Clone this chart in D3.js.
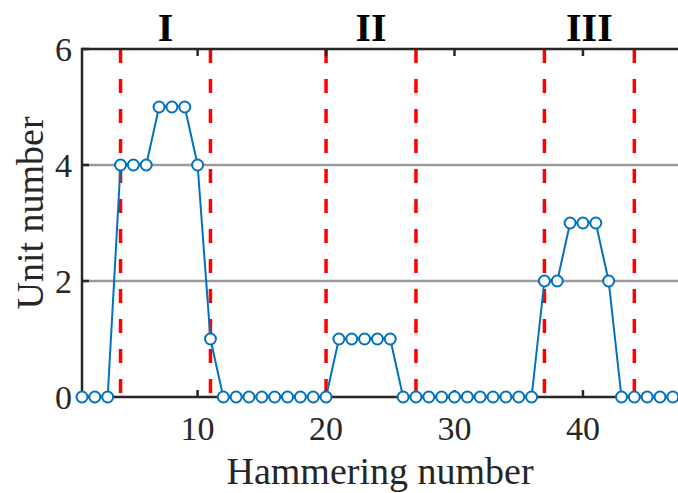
<!DOCTYPE html>
<html><head><meta charset="utf-8">
<script src="https://cdn.jsdelivr.net/npm/d3@7"></script>
<style>html,body{margin:0;padding:0;background:#fff;} svg{display:block;}</style>
</head><body>
<svg id="c" width="678" height="493"></svg>
<script>
const hammering = d3.range(1, 48);
const units = [0,0,0,4,4,4,5,5,5,4,1,0,0,0,0,0,0,0,0,0,1,1,1,1,1,0,0,0,0,0,0,0,0,0,0,0,2,2,3,3,3,2,0,0,0,0,0];
const boundaries = [4,11,20,27,37,44];
const stageLabels = ["I","II","III"];
const xTicks = [10,20,30,40];
const yTicks = [0,2,4,6];
const gridValues = [2,4];

const svg = d3.select("#c");
const L = 82, R = 678, T = 49, B = 397;
const x = d3.scaleLinear().domain([1, 47.4]).range([L, R]);
const y = d3.scaleLinear().domain([0, 6]).range([B, T]);
const font = "'Liberation Serif','Times New Roman',serif";
const axisColor = "#262626";

// gridlines
svg.append("g").selectAll("line").data(gridValues).join("line")
  .attr("x1", L).attr("x2", R).attr("y1", d => y(d)).attr("y2", d => y(d))
  .attr("stroke", "#9a9a9a").attr("stroke-width", 2.5);

// red dashed boundaries
svg.append("g").selectAll("line").data(boundaries).join("line")
  .attr("x1", d => x(d)).attr("x2", d => x(d)).attr("y1", T).attr("y2", B)
  .attr("stroke", "#ff0000").attr("stroke-width", 3.5).attr("stroke-dasharray", "14,16");

// axes lines
const ax = svg.append("g").attr("stroke", axisColor).attr("stroke-width", 2.5);
ax.append("line").attr("x1", L).attr("x2", L).attr("y1", T - 1).attr("y2", B + 1);
ax.append("line").attr("x1", L - 1).attr("x2", R).attr("y1", T).attr("y2", T);
ax.append("line").attr("x1", L - 1).attr("x2", R).attr("y1", B).attr("y2", B);
// ticks
ax.selectAll(".yt").data(yTicks).join("line").attr("class","yt")
  .attr("x1", L).attr("x2", L + 7).attr("y1", d => y(d)).attr("y2", d => y(d));
ax.selectAll(".xb").data(xTicks).join("line").attr("class","xb")
  .attr("x1", d => x(d)).attr("x2", d => x(d)).attr("y1", B).attr("y2", B - 7);
ax.selectAll(".xt").data(xTicks).join("line").attr("class","xt")
  .attr("x1", d => x(d)).attr("x2", d => x(d)).attr("y1", T).attr("y2", T + 7);

// tick labels
svg.append("g").selectAll("text").data(yTicks).join("text")
  .attr("x", L - 10).attr("y", d => y(d) + 12).attr("text-anchor", "end")
  .attr("font-family", font).attr("font-size", 34).attr("fill", axisColor).text(d => d);
svg.append("g").selectAll("text").data(xTicks).join("text")
  .attr("x", d => x(d)).attr("y", 440).attr("text-anchor", "middle")
  .attr("font-family", font).attr("font-size", 34).attr("fill", axisColor).text(d => d);

// axis titles
svg.append("text").attr("x", 380).attr("y", 484).attr("text-anchor", "middle")
  .attr("font-family", font).attr("font-size", 38).attr("fill", axisColor).text("Hammering number");
svg.append("text").attr("transform", "translate(43,213) rotate(-90)").attr("text-anchor", "middle")
  .attr("font-family", font).attr("font-size", 38).attr("fill", axisColor).text("Unit number");

// stage labels
svg.append("g").selectAll("text").data(stageLabels).join("text")
  .attr("x", (d, i) => (x(boundaries[2*i]) + x(boundaries[2*i+1])) / 2)
  .attr("y", 41).attr("text-anchor", "middle")
  .attr("font-family", font).attr("font-weight", "bold").attr("font-size", 40).attr("fill", "#000").text(d => d);

// data
const pts = hammering.map((h, i) => [h, units[i]]);
svg.append("path").datum(pts)
  .attr("d", d3.line().x(d => x(d[0])).y(d => y(d[1])))
  .attr("fill", "none").attr("stroke", "#0072BD").attr("stroke-width", 2);
svg.append("g").selectAll("circle").data(pts).join("circle")
  .attr("cx", d => x(d[0])).attr("cy", d => y(d[1])).attr("r", 5.5)
  .attr("fill", "#fff").attr("stroke", "#0072BD").attr("stroke-width", 2);
</script>
</body></html>
